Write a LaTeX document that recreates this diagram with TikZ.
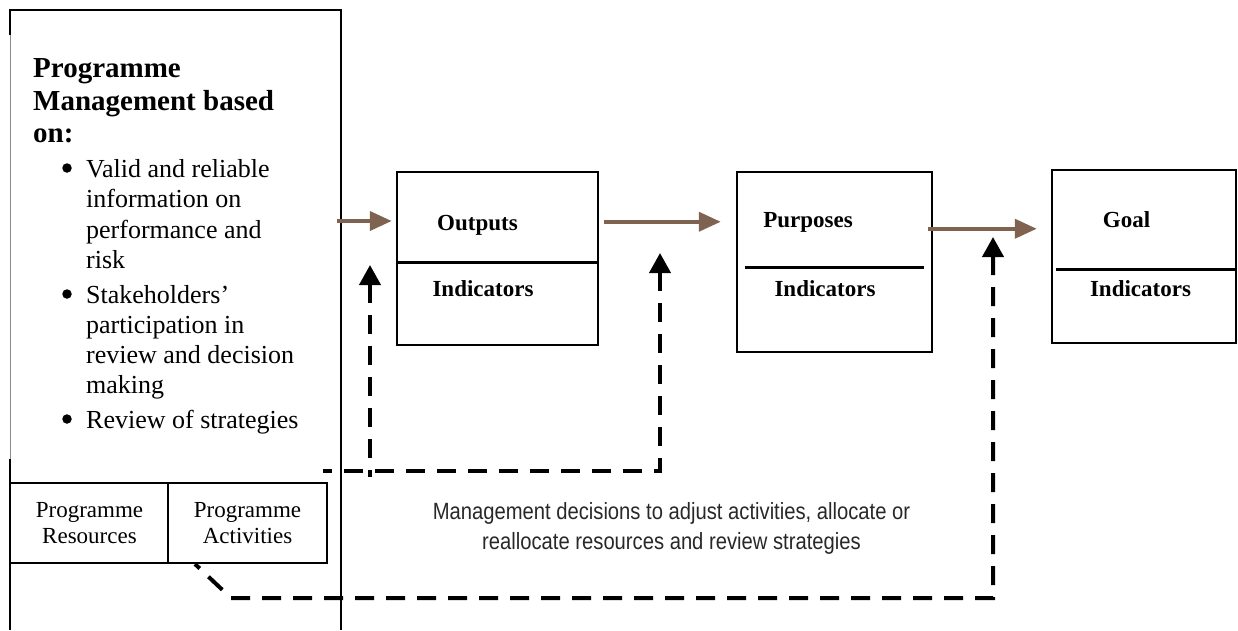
\documentclass[tikz,border=0pt]{standalone}
\usepackage{fontspec}
\setmainfont{Liberation Serif}
\newfontfamily\narrowsans[FakeStretch=0.86]{Liberation Sans}
\usetikzlibrary{arrows.meta}
\definecolor{flowbrown}{RGB}{127,99,80}
\definecolor{notegray}{RGB}{40,40,40}

\begin{document}
\begin{tikzpicture}[x=1pt,y=-1pt,
  stagebox/.style={draw=black,line width=2.5pt,inner sep=0pt,rectangle},
  smallbox/.style={draw=black,line width=2pt,inner sep=0pt,rectangle},
  divider/.style={draw=black,line width=3pt},
  framepen/.style={draw=black,line width=2.5pt},
  boxlabel/.style={anchor=base,inner sep=0pt,font=\fontsize{23}{26}\selectfont\bfseries},
  smalllabel/.style={anchor=base,inner sep=0pt,font=\fontsize{23}{26}\selectfont},
  titletext/.style={anchor=base west,inner sep=0pt,font=\fontsize{29}{32}\selectfont\bfseries},
  itemtext/.style={anchor=base west,inner sep=0pt,font=\fontsize{26}{30}\selectfont},
  bulletdot/.style={circle,fill=black,inner sep=0pt,minimum size=9.5pt},
  notetext/.style={anchor=base,inner sep=0pt,text=notegray,font=\narrowsans\fontsize{23.5}{28}\selectfont},
  flow/.style={draw=flowbrown,line width=4pt,-{Triangle[length=22pt,width=19pt]}},
  feedback/.style={draw=black,line width=4pt,dash pattern=on 19pt off 12pt,
    {Triangle[length=20pt,width=21pt]}-},
]
\useasboundingbox (0,0) rectangle (1238,630);

% ---- programme management frame (open at the bottom) ----
\draw[framepen] (10,35) -- (10,10) -- (341,10) -- (341,630);
\draw[draw=black!45,line width=1pt] (10,35) -- (10,459);
\draw[framepen] (10,459) -- (10,630);

\node[titletext] (t1) at (33,77) {Programme};
\node[titletext] (t2) at (33,110) {Management based};
\node[titletext] (t3) at (33,142) {on:};

\node[bulletdot] (b1) at (67,168) {};
\node[itemtext] (i1a) at (86,177) {Valid and reliable};
\node[itemtext] (i1b) at (86,207) {information on};
\node[itemtext] (i1c) at (86,238) {performance and};
\node[itemtext] (i1d) at (86,268) {risk};

\node[bulletdot] (b2) at (67,294) {};
\node[itemtext] (i2a) at (86,303) {Stakeholders’};
\node[itemtext] (i2b) at (86,333) {participation in};
\node[itemtext] (i2c) at (86,363) {review and decision};
\node[itemtext] (i2d) at (86,393) {making};

\node[bulletdot] (b3) at (67,419) {};
\node[itemtext] (i3a) at (86,428) {Review of strategies};

% ---- resources / activities ----
\node[smallbox,minimum width=158pt,minimum height=80pt] (res) at (89,523) {};
\node[smallbox,minimum width=159pt,minimum height=80pt] (act) at (247.5,523) {};
\node[smalllabel] (resA) at (89.5,517) {Programme};
\node[smalllabel] (resB) at (89.5,543) {Resources};
\node[smalllabel] (actA) at (247.5,517) {Programme};
\node[smalllabel] (actB) at (247.5,543) {Activities};

% ---- results chain ----
\node[stagebox,minimum width=201pt,minimum height=173pt] (out) at (497.5,258.5) {};
\draw[divider] (397,262) -- (598,262);
\node[boxlabel] (outT) at (477.5,230) {Outputs};
\node[boxlabel] (outI) at (483,296) {Indicators};

\node[stagebox,minimum width=195pt,minimum height=180pt] (purp) at (834.5,262) {};
\draw[divider] (745,267) -- (924,267);
\node[boxlabel] (purpT) at (808,227) {Purposes};
\node[boxlabel] (purpI) at (825,296) {Indicators};

\node[stagebox,minimum width=184pt,minimum height=173pt] (goal) at (1144,256.5) {};
\draw[divider] (1056,269) -- (1236,269);
\node[boxlabel] (goalT) at (1126.5,227) {Goal};
\node[boxlabel] (goalI) at (1140.5,296) {Indicators};

% ---- flow arrows ----
\coordinate (mgmtOut) at (337,221);
\draw[flow,shorten >=4pt] (mgmtOut) -- (mgmtOut -| out.west);
\draw[flow] ([shift={(5pt,-51pt)}]out.north east) -- ([shift={(-15pt,-51pt)}]purp.north west);
\draw[flow] ([shift={(-5pt,-58pt)}]purp.north east) -- ([shift={(-14pt,-60pt)}]goal.north west);

% ---- feedback loops ----
\coordinate (fbStart) at (323,471);
\coordinate (fbOutTip) at (370,265);
\coordinate (fbOutFoot) at (370,477);
\coordinate (fbPurpTip) at (660,253);
\coordinate (fbGoalTip) at (993,237);

\draw[feedback] (fbPurpTip) -- (fbPurpTip |- fbStart) -- (fbStart);
\draw[feedback] (fbOutTip) -- (fbOutFoot);
\draw[feedback] (fbGoalTip) -- (993,598) -- (231,598) -- ([xshift=28pt]act.south west);

\node[notetext] (note1) at (671.5,519) {Management decisions to adjust activities, allocate or};
\node[notetext] (note2) at (671.5,549) {reallocate resources and review strategies};
\end{tikzpicture}
\end{document}
